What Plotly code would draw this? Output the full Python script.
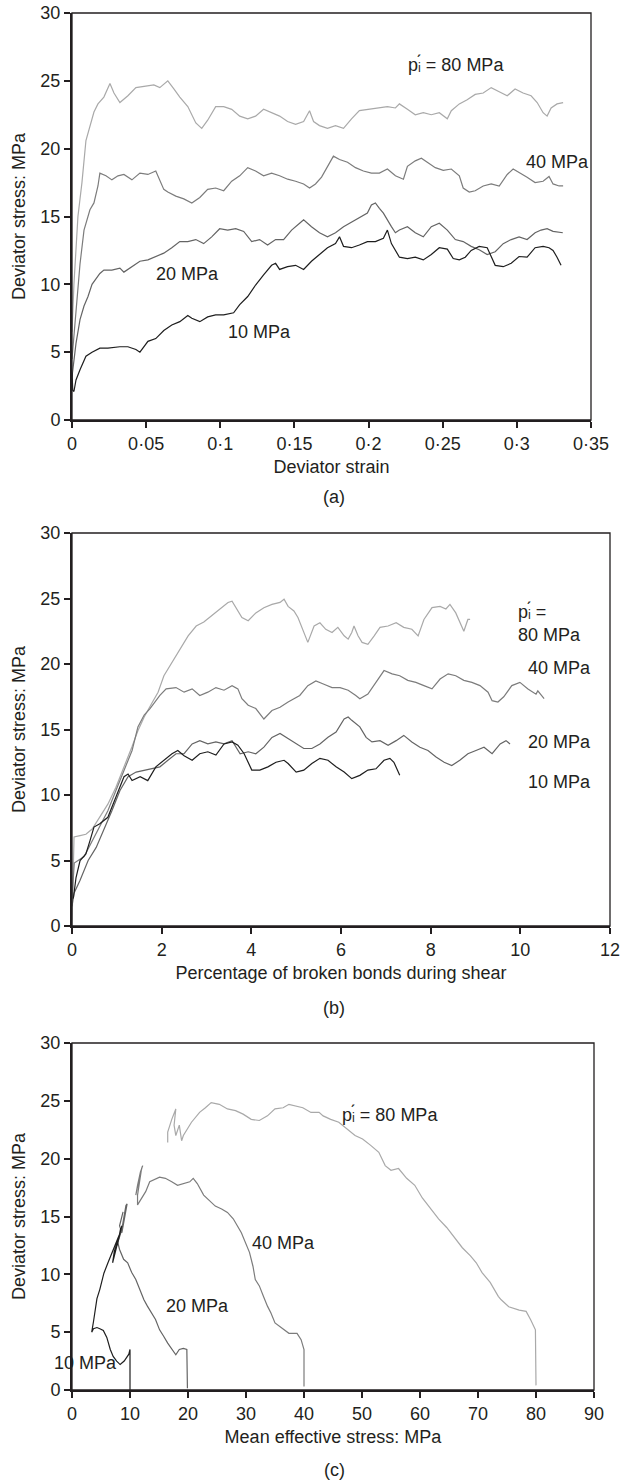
import plotly.graph_objects as go

# ---------------- (a) deviator stress vs deviator strain ----------------
strain_80 = [0.0000, 0.0013, 0.0040, 0.0067, 0.0094, 0.0121, 0.0148, 0.0175, 0.0215, 0.0256,
             0.0283, 0.0323, 0.0377, 0.0431, 0.0485, 0.0552, 0.0592, 0.0646, 0.0687, 0.0727,
             0.0781, 0.0808, 0.0835, 0.0875, 0.0915, 0.0969, 0.1023, 0.1077, 0.1131, 0.1185,
             0.1238, 0.1292, 0.1346, 0.1400, 0.1454, 0.1508, 0.1562, 0.1602, 0.1629, 0.1669,
             0.1723, 0.1777, 0.1831, 0.1885, 0.1938, 0.1992, 0.2073, 0.2127, 0.2181, 0.2208,
             0.2262, 0.2315, 0.2369, 0.2423, 0.2477, 0.2531, 0.2558, 0.2612, 0.2665, 0.2719,
             0.2773, 0.2827, 0.2881, 0.2935, 0.2988, 0.3042, 0.3096, 0.3137, 0.3177, 0.3204,
             0.3231, 0.3271, 0.3312]
q_80_a = [6.5, 10.0, 15.0, 17.5, 20.6, 21.6, 22.7, 23.3, 23.8, 24.8,
          24.1, 23.4, 23.9, 24.5, 24.6, 24.7, 24.5, 25.0, 24.4, 23.8,
          23.1, 22.5, 21.9, 21.5, 22.1, 23.1, 23.1, 22.9, 22.4, 22.2,
          22.4, 22.9, 22.65, 22.4, 22.0, 21.8, 22.0, 22.8, 22.0, 21.7,
          21.5, 21.7, 21.5, 22.2, 22.8, 22.9, 23.0, 23.1, 23.0, 23.3,
          22.9, 22.5, 22.65, 22.5, 22.65, 22.2, 22.8, 23.3, 23.6, 24.0,
          24.1, 24.5, 24.2, 23.9, 24.4, 24.1, 23.9, 23.4, 22.65, 22.4,
          23.0, 23.3, 23.4]

strain_40 = [0.0000, 0.0027, 0.0054, 0.0081, 0.0121, 0.0148, 0.0175, 0.0188, 0.0229, 0.0269,
             0.0310, 0.0350, 0.0404, 0.0458, 0.0512, 0.0565, 0.0592, 0.0619, 0.0646, 0.0700,
             0.0754, 0.0808, 0.0862, 0.0915, 0.0969, 0.1023, 0.1077, 0.1131, 0.1185, 0.1238,
             0.1292, 0.1346, 0.1400, 0.1454, 0.1508, 0.1562, 0.1602, 0.1642, 0.1683, 0.1723,
             0.1763, 0.1804, 0.1858, 0.1912, 0.1965, 0.2019, 0.2073, 0.2127, 0.2181, 0.2235,
             0.2262, 0.2315, 0.2356, 0.2396, 0.2450, 0.2504, 0.2558, 0.2612, 0.2638, 0.2679,
             0.2719, 0.2773, 0.2827, 0.2881, 0.2935, 0.2975, 0.3015, 0.3069, 0.3123, 0.3177,
             0.3217, 0.3244, 0.3285, 0.3312]
q_40_a = [4.5, 8.0, 11.5, 14.0, 15.5, 16.0, 17.25, 18.2, 18.0, 17.7,
          18.0, 18.1, 17.7, 18.2, 18.1, 18.35, 17.7, 17.0, 16.8, 16.5,
          16.3, 16.0, 16.4, 17.0, 17.1, 16.9, 17.6, 18.0, 18.6, 18.35,
          18.0, 18.2, 18.0, 17.75, 17.6, 17.4, 17.1, 17.4, 17.9, 18.7,
          19.45, 19.2, 19.0, 18.6, 18.35, 18.2, 18.2, 18.5, 18.0, 17.75,
          18.7, 19.1, 19.3, 19.0, 18.6, 18.4, 18.5, 18.0, 17.1, 16.8,
          16.9, 17.25, 17.4, 17.25, 18.1, 18.5, 18.25, 17.9, 17.5, 17.6,
          17.95, 17.4, 17.25, 17.25]

strain_20 = [0.0000, 0.0027, 0.0054, 0.0081, 0.0108, 0.0135, 0.0188, 0.0215, 0.0269, 0.0323,
             0.0350, 0.0404, 0.0458, 0.0512, 0.0565, 0.0619, 0.0673, 0.0727, 0.0781, 0.0835,
             0.0888, 0.0942, 0.0996, 0.1050, 0.1104, 0.1158, 0.1212, 0.1265, 0.1319, 0.1373,
             0.1427, 0.1481, 0.1535, 0.1562, 0.1615, 0.1669, 0.1723, 0.1777, 0.1831, 0.1885,
             0.1938, 0.1992, 0.2019, 0.2046, 0.2073, 0.2100, 0.2154, 0.2181, 0.2208, 0.2262,
             0.2315, 0.2369, 0.2423, 0.2477, 0.2531, 0.2585, 0.2638, 0.2692, 0.2746, 0.2800,
             0.2854, 0.2908, 0.2962, 0.3015, 0.3069, 0.3123, 0.3163, 0.3204, 0.3244, 0.3310]
q_20_a = [3.2, 5.65, 7.4, 8.4, 9.1, 10.0, 10.8, 11.05, 11.05, 11.2,
          10.9, 11.3, 11.7, 11.8, 12.05, 12.3, 12.7, 13.15, 13.15, 13.3,
          13.0, 13.5, 14.1, 14.0, 14.1, 13.9, 13.15, 13.3, 12.9, 13.3,
          13.3, 14.0, 14.5, 14.75, 14.25, 13.8, 13.5, 13.8, 14.25, 14.6,
          14.9, 15.25, 15.85, 16.0, 15.6, 15.25, 14.25, 13.8, 14.0, 14.25,
          13.8, 13.5, 14.25, 14.5, 14.0, 13.3, 13.15, 12.8, 12.55, 12.2,
          12.4, 13.0, 13.3, 13.5, 13.3, 13.8, 14.0, 14.1, 13.9, 13.8]

strain_10 = [0.0000, 0.0005, 0.0013, 0.0027, 0.0054, 0.0094, 0.0135, 0.0188, 0.0242, 0.0323,
             0.0377, 0.0431, 0.0458, 0.0485, 0.0512, 0.0565, 0.0619, 0.0673, 0.0727, 0.0781,
             0.0808, 0.0862, 0.0915, 0.0969, 0.1023, 0.1090, 0.1131, 0.1185, 0.1238, 0.1292,
             0.1346, 0.1373, 0.1400, 0.1454, 0.1508, 0.1562, 0.1615, 0.1669, 0.1723, 0.1777,
             0.1804, 0.1831, 0.1885, 0.1938, 0.1992, 0.2046, 0.2100, 0.2127, 0.2154, 0.2208,
             0.2262, 0.2315, 0.2369, 0.2423, 0.2477, 0.2531, 0.2571, 0.2612, 0.2652, 0.2692,
             0.2746, 0.2800, 0.2854, 0.2908, 0.2962, 0.3015, 0.3069, 0.3123, 0.3177, 0.3217,
             0.3244, 0.3271, 0.3298]
q_10_a = [3.5, 2.2, 2.1, 2.95, 3.7, 4.7, 5.0, 5.3, 5.3, 5.4,
          5.4, 5.2, 5.0, 5.4, 5.8, 6.0, 6.6, 7.0, 7.25, 7.7,
          7.5, 7.25, 7.6, 7.75, 7.75, 7.9, 8.5, 9.1, 9.95, 10.7,
          11.4, 11.55, 11.1, 11.3, 11.4, 11.1, 11.7, 12.2, 12.7, 13.0,
          13.5, 12.8, 12.7, 12.9, 13.15, 13.15, 13.4, 14.0, 13.0, 12.0,
          11.9, 12.0, 11.8, 12.2, 12.7, 12.6, 11.9, 11.8, 12.0, 12.5,
          12.8, 12.7, 11.4, 11.3, 11.55, 12.05, 12.0, 12.7, 12.8, 12.7,
          12.5, 12.0, 11.4]

# ---------------- (b) deviator stress vs broken bonds (%) ----------------
bonds_80 = [0.0, 0.045, 0.18, 0.31, 0.45, 0.62, 0.80, 0.98, 1.16, 1.34,
            1.47, 1.61, 1.78, 1.83, 1.92, 2.05, 2.23, 2.41, 2.59, 2.77,
            2.94, 3.12, 3.30, 3.48, 3.57, 3.66, 3.79, 3.93, 4.10, 4.28,
            4.46, 4.64, 4.73, 4.82, 4.95, 5.04, 5.17, 5.26, 5.40, 5.53,
            5.66, 5.80, 5.93, 6.07, 6.16, 6.24, 6.29, 6.38, 6.47, 6.60,
            6.74, 6.87, 7.05, 7.23, 7.40, 7.58, 7.72, 7.85, 8.03, 8.21,
            8.34, 8.43, 8.56, 8.65, 8.74, 8.83, 8.88]
q_80_b = [0.0, 6.8, 6.9, 7.0, 7.4, 8.3, 9.3, 10.6, 12.1, 13.7,
          14.9, 15.95, 17.0, 17.3, 17.85, 19.1, 20.1, 21.1, 22.15, 22.9,
          23.2, 23.7, 24.2, 24.7, 24.8, 24.3, 23.55, 23.3, 23.9, 24.3,
          24.55, 24.7, 24.95, 24.4, 24.05, 23.55, 22.4, 21.65, 22.9, 23.15,
          22.65, 22.4, 22.8, 22.15, 21.9, 22.4, 22.9, 22.15, 21.65, 21.5,
          22.15, 22.8, 22.9, 23.15, 22.8, 22.65, 22.15, 23.4, 24.3, 24.4,
          24.2, 24.55, 23.9, 23.15, 22.5, 23.4, 23.4]

bonds_40 = [0.0, 0.05, 0.27, 0.45, 0.62, 0.80, 0.98, 1.16, 1.34, 1.47,
            1.61, 1.74, 1.87, 1.96, 2.10, 2.32, 2.50, 2.68, 2.85, 3.03,
            3.21, 3.39, 3.57, 3.70, 3.79, 3.93, 4.10, 4.28, 4.46, 4.64,
            4.82, 5.08, 5.26, 5.44, 5.62, 5.80, 5.98, 6.16, 6.33, 6.42,
            6.60, 6.78, 6.96, 7.14, 7.31, 7.49, 7.67, 7.85, 8.03, 8.21,
            8.39, 8.56, 8.74, 8.92, 9.10, 9.28, 9.37, 9.50, 9.63, 9.81,
            9.99, 10.17, 10.35, 10.39, 10.53]
q_40_b = [2.0, 4.8, 5.3, 6.5, 7.55, 8.8, 10.35, 11.9, 13.4, 15.2,
          16.1, 16.6, 17.2, 17.6, 18.1, 18.2, 17.85, 18.1, 17.6, 17.85,
          18.2, 18.0, 18.35, 18.1, 17.35, 16.85, 16.6, 15.8, 16.45, 16.7,
          17.1, 17.6, 18.35, 18.7, 18.45, 18.2, 18.2, 18.0, 17.6, 17.35,
          17.7, 18.6, 19.5, 19.25, 19.1, 18.75, 18.6, 18.35, 18.1, 18.85,
          19.25, 19.1, 18.75, 18.6, 18.35, 17.85, 17.2, 17.1, 17.5, 18.35,
          18.6, 18.1, 17.7, 17.95, 17.35]

bonds_20 = [0.0, 0.045, 0.18, 0.36, 0.54, 0.71, 0.89, 1.07, 1.25, 1.43,
            1.61, 1.78, 1.96, 2.14, 2.32, 2.50, 2.68, 2.85, 3.03, 3.21,
            3.39, 3.57, 3.75, 3.93, 4.10, 4.28, 4.46, 4.64, 4.82, 5.00,
            5.17, 5.35, 5.53, 5.71, 5.89, 6.07, 6.16, 6.24, 6.42, 6.56,
            6.69, 6.87, 7.05, 7.23, 7.40, 7.58, 7.76, 7.94, 8.12, 8.30,
            8.47, 8.65, 8.83, 9.01, 9.19, 9.37, 9.55, 9.68, 9.77]
q_20_b = [1.5, 2.5, 3.5, 5.0, 6.0, 7.3, 8.8, 10.35, 11.4, 11.75,
          11.9, 12.0, 12.15, 12.65, 13.15, 13.15, 13.9, 14.15, 13.9, 14.05,
          13.9, 14.15, 13.15, 13.3, 13.15, 13.65, 14.4, 14.7, 14.3, 13.9,
          13.55, 13.55, 13.9, 14.4, 14.8, 15.8, 15.95, 15.7, 15.2, 14.4,
          14.05, 14.15, 13.8, 14.15, 14.55, 14.05, 13.65, 13.4, 12.9, 12.5,
          12.25, 12.65, 13.15, 13.4, 13.65, 13.15, 13.9, 14.15, 13.9]

bonds_10 = [0.03, 0.09, 0.18, 0.31, 0.40, 0.49, 0.62, 0.80, 0.98, 1.16,
            1.25, 1.34, 1.52, 1.69, 1.87, 2.05, 2.23, 2.36, 2.50, 2.68,
            2.85, 3.03, 3.21, 3.39, 3.57, 3.70, 3.84, 4.01, 4.19, 4.37,
            4.55, 4.73, 4.82, 5.00, 5.17, 5.35, 5.53, 5.71, 5.89, 6.07,
            6.24, 6.42, 6.60, 6.78, 6.96, 7.09, 7.18, 7.31]
q_10_b = [2.1, 3.7, 5.0, 5.5, 6.5, 7.55, 7.8, 8.3, 9.85, 11.4,
          11.6, 11.1, 11.4, 11.1, 12.15, 12.65, 13.15, 13.4, 13.0, 12.65,
          13.15, 13.3, 13.05, 13.9, 14.05, 13.8, 13.15, 11.9, 11.9, 12.15,
          12.5, 12.65, 12.4, 11.75, 11.9, 12.4, 12.8, 12.65, 12.15, 11.75,
          11.25, 11.5, 11.9, 12.0, 12.65, 12.8, 12.5, 11.5]

# ---------------- (c) deviator stress vs mean effective stress ----------------
p_80 = [80.0, 79.9, 79.1, 78.3, 77.1, 75.3, 74.0, 73.5, 72.1, 70.7,
        69.7, 68.7, 67.3, 65.9, 64.6, 63.2, 61.8, 60.4, 59.1, 57.7,
        56.3, 55.0, 54.0, 52.9, 51.5, 50.1, 48.8, 47.4, 46.0, 44.6,
        43.3, 42.6, 41.2, 39.8, 38.5, 37.4, 36.4, 35.0, 33.7, 32.3,
        30.9, 29.5, 28.2, 26.8, 25.4, 24.0, 23.0, 22.0, 20.6, 19.9,
        19.2, 18.9, 18.5, 17.9, 17.6, 17.9, 17.2, 16.5, 16.5]
q_80_c = [0.4, 5.2, 6.05, 6.8, 6.9, 7.2, 7.8, 8.1, 9.3, 10.15,
          11.0, 11.6, 12.3, 13.2, 14.05, 14.8, 15.65, 16.6, 17.7, 18.3,
          19.15, 19.0, 19.4, 20.55, 21.15, 21.7, 22.0, 22.6, 23.15, 23.4,
          23.7, 24.0, 24.0, 24.4, 24.55, 24.7, 24.4, 24.3, 23.7, 23.3,
          23.4, 23.85, 24.15, 24.3, 24.7, 24.85, 24.4, 24.0, 23.15, 22.6,
          22.0, 21.55, 22.9, 22.0, 22.9, 24.3, 23.4, 22.3, 21.4]

p_40 = [40.0, 40.0, 39.5, 38.8, 37.4, 36.1, 35.0, 34.3, 33.7, 33.0,
        32.3, 31.6, 31.2, 30.6, 29.9, 29.2, 28.5, 27.8, 26.8, 25.8,
        24.7, 23.7, 22.7, 21.6, 20.9, 20.3, 19.2, 18.2, 17.2, 16.1,
        15.1, 14.1, 13.4, 12.7, 12.0, 11.3, 11.3, 11.7, 12.0, 12.2,
        11.8, 11.3, 11.0, 11.6, 12.1]
q_40_c = [0.3, 3.5, 4.35, 4.9, 4.9, 5.35, 5.8, 6.65, 7.25, 8.1,
          9.0, 9.55, 10.7, 11.9, 12.75, 13.6, 14.2, 14.8, 15.35, 15.65,
          15.9, 16.4, 16.85, 17.85, 18.3, 18.0, 17.85, 17.7, 18.0, 18.3,
          18.4, 18.15, 18.0, 17.15, 16.55, 16.0, 16.85, 18.3, 19.15, 19.4,
          18.85, 17.7, 16.85, 18.3, 19.3]

p_20 = [19.9, 19.8, 19.2, 18.5, 17.9, 17.2, 16.5, 15.8, 15.1, 14.4,
        13.7, 13.0, 12.4, 11.7, 11.0, 10.3, 9.6, 8.9, 8.2, 7.9,
        8.6, 8.9, 9.3, 9.5, 9.1, 8.6, 8.2, 8.8]
q_20_c = [0.15, 3.5, 3.6, 3.5, 3.05, 3.5, 4.05, 4.65, 5.2, 6.1,
          6.65, 7.25, 7.8, 8.7, 9.55, 10.15, 11.0, 11.3, 12.15, 12.75,
          13.9, 14.8, 15.95, 16.1, 15.1, 13.6, 14.2, 15.4]

p_10 = [10.0, 10.0, 9.8, 9.0, 8.3, 7.7, 7.1, 6.6, 6.0, 5.4,
        4.8, 4.3, 3.7, 3.4, 3.7, 4.3, 4.8, 5.5, 6.2, 6.9,
        7.6, 8.3, 8.6, 7.6, 7.0, 7.3, 8.0, 8.4, 7.8]
q_10_c = [0.0, 3.5, 3.1, 2.5, 2.2, 2.5, 2.9, 3.5, 4.55, 5.15,
          5.3, 5.4, 5.3, 5.0, 5.9, 7.9, 8.7, 10.1, 11.0, 11.9,
          12.75, 13.6, 14.2, 12.2, 11.0, 12.0, 13.0, 14.0, 12.5]

# ---------------- axis ticks ----------------
strain_ticks = [0, 0.05, 0.1, 0.15, 0.2, 0.25, 0.3, 0.35]
strain_tick_text = ["0", "0·05", "0·1", "0·15", "0·2", "0·25", "0·3", "0·35"]
stress_ticks = [0, 5, 10, 15, 20, 25, 30]

# ---------------- styling ----------------
W, H = 626, 1481
FONT = "Liberation Sans, Arial, Helvetica, sans-serif"
INK = "#231f20"
FS = 18
C80, C40, C20, C10 = "#a9a9a9", "#7c7c7c", "#646464", "#1e1e1e"
LW = 1.2
TXT = dict(family=FONT, size=FS, color=INK)
P_I = "pᵢ\u0301"  # p, subscript i, with an accent-like prime above the subscript


def px_x(px):
    return px / W


def px_y(py):
    return 1 - py / H


# plot areas in pixels: (left, right, top, bottom)
areas = {
    "a": (72, 591, 13, 420),
    "b": (72, 610, 533, 926),
    "c": (72, 594, 1043, 1390),
}

fig = go.Figure()


def add_line(x, y, color, xa, ya):
    fig.add_trace(go.Scatter(x=x, y=y, mode="lines", xaxis=xa, yaxis=ya,
                             line=dict(color=color, width=LW),
                             hoverinfo="skip", showlegend=False))


add_line(strain_80, q_80_a, C80, "x", "y")
add_line(strain_40, q_40_a, C40, "x", "y")
add_line(strain_20, q_20_a, C20, "x", "y")
add_line(strain_10, q_10_a, C10, "x", "y")

add_line(bonds_80, q_80_b, C80, "x2", "y2")
add_line(bonds_40, q_40_b, C40, "x2", "y2")
add_line(bonds_20, q_20_b, C20, "x2", "y2")
add_line(bonds_10, q_10_b, C10, "x2", "y2")

add_line(p_80, q_80_c, C80, "x3", "y3")
add_line(p_40, q_40_c, C40, "x3", "y3")
add_line(p_20, q_20_c, C20, "x3", "y3")
add_line(p_10, q_10_c, C10, "x3", "y3")

axis_common = dict(showline=True, linewidth=2, linecolor=INK, ticks="outside",
                   ticklen=6, tickwidth=1.5, tickcolor=INK, showgrid=False,
                   zeroline=False, automargin=False, tickfont=TXT)

layout = dict(width=W, height=H, margin=dict(l=0, r=0, t=0, b=0),
              paper_bgcolor="white", plot_bgcolor="white",
              font=TXT, showlegend=False)

x_specs = {
    "a": dict(range=[0, 0.35], tickvals=strain_ticks, ticktext=strain_tick_text,
              title=dict(text="Deviator strain", standoff=8, font=TXT)),
    "b": dict(range=[0, 12], tickvals=list(range(0, 13, 2)),
              title=dict(text="Percentage of broken bonds during shear", standoff=8, font=TXT)),
    "c": dict(range=[0, 90], tickvals=list(range(0, 91, 10)),
              title=dict(text="Mean effective stress: MPa", standoff=8, font=TXT)),
}
names = {"a": ("xaxis", "yaxis", "y", "x"),
         "b": ("xaxis2", "yaxis2", "y2", "x2"),
         "c": ("xaxis3", "yaxis3", "y3", "x3")}

shapes = []
for key, (l, r, t, b) in areas.items():
    xn, yn, yref, xref = names[key]
    layout[xn] = dict(domain=[px_x(l), px_x(r)], anchor=yref, **x_specs[key], **axis_common)
    layout[yn] = dict(domain=[px_y(b), px_y(t)], anchor=xref, range=[0, 30],
                      tickvals=stress_ticks,
                      title=dict(text="Deviator stress: MPa", standoff=10, font=TXT),
                      **axis_common)
    # thin frame on the top and right sides
    shapes.append(dict(type="rect", xref="paper", yref="paper",
                       x0=px_x(l), x1=px_x(r), y0=px_y(b), y1=px_y(t),
                       line=dict(color=INK, width=1.3), layer="above"))
layout["shapes"] = shapes

ann = []


def text(x, y, s, xref, yref, xanchor="left", yanchor="middle", **kw):
    ann.append(dict(x=x, y=y, text=s, xref=xref, yref=yref, xanchor=xanchor,
                    yanchor=yanchor, showarrow=False, font=TXT, **kw))


# panel letters
text(px_x(334), px_y(497), "(a)", "paper", "paper", xanchor="center")
text(px_x(334), px_y(1008), "(b)", "paper", "paper", xanchor="center")
text(px_x(334), px_y(1470), "(c)", "paper", "paper", xanchor="center")

# curve labels, panel (a)
text(0.2252, 26.2, P_I + " = 80 MPa", "x", "y")
text(0.3048, 19.0, "40 MPa", "x", "y")
text(0.0553, 10.76, "20 MPa", "x", "y")
text(0.1039, 6.5, "10 MPa", "x", "y")

# curve labels, panel (b)
text(9.90, 23.97, P_I + " =", "x2", "y2")
text(9.90, 22.2, "80 MPa", "x2", "y2")
text(10.13, 19.7, "40 MPa", "x2", "y2")
text(10.13, 14.05, "20 MPa", "x2", "y2")
text(10.13, 11.0, "10 MPa", "x2", "y2")

# curve labels, panel (c); the 10 MPa label overlaps the y axis
text(46.2, 23.8, P_I + " = 80 MPa", "x3", "y3")
text(30.7, 12.7, "40 MPa", "x3", "y3")
text(15.9, 7.26, "20 MPa", "x3", "y3")
text(px_x(52), px_y(1363), "10 MPa", "paper", "paper")

layout["annotations"] = ann
fig.update_layout(**layout)
fig.write_html("out.html")
